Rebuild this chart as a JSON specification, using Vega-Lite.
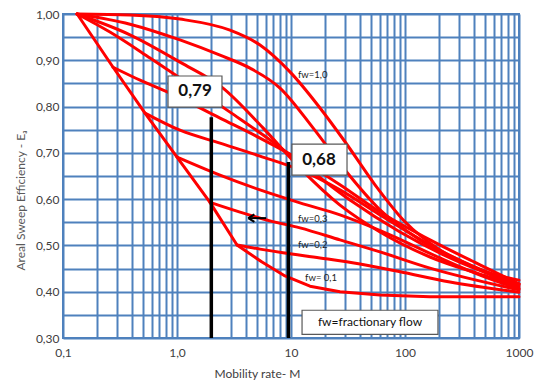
{
  "$schema": "https://vega.github.io/schema/vega-lite/v6.json",
  "width": 456,
  "height": 324,
  "autosize": {"type": "none"},
  "padding": {"left": 63, "top": 14, "right": 16, "bottom": 47},
  "background": "white",
  "config": {"view": {"stroke": "#4F81BD", "strokeWidth": 2}, "font": "Lato"},
  "datasets": {
    "curves": [
      {"fw": "1.0", "s": 1, "M": 0.133, "E": 1.0},
      {"fw": "1.0", "s": 1, "M": 0.387, "E": 0.998},
      {"fw": "1.0", "s": 1, "M": 1.062, "E": 0.989},
      {"fw": "1.0", "s": 1, "M": 2.917, "E": 0.965},
      {"fw": "1.0", "s": 1, "M": 5.348, "E": 0.933},
      {"fw": "1.0", "s": 1, "M": 9.799, "E": 0.875},
      {"fw": "1.0", "s": 1, "M": 17.97, "E": 0.797},
      {"fw": "1.0", "s": 1, "M": 29.77, "E": 0.724},
      {"fw": "1.0", "s": 1, "M": 54.56, "E": 0.631},
      {"fw": "1.0", "s": 1, "M": 100, "E": 0.551},
      {"fw": "1.0", "s": 1, "M": 202.8, "E": 0.49},
      {"fw": "1.0", "s": 1, "M": 454.9, "E": 0.447},
      {"fw": "1.0", "s": 1, "M": 1000, "E": 0.425},

      {"fw": "0.9", "s": 1, "M": 0.133, "E": 1.0},
      {"fw": "0.9", "s": 1, "M": 0.387, "E": 0.978},
      {"fw": "0.9", "s": 1, "M": 1.062, "E": 0.944},
      {"fw": "0.9", "s": 1, "M": 2.384, "E": 0.911},
      {"fw": "0.9", "s": 1, "M": 4.369, "E": 0.883},
      {"fw": "0.9", "s": 1, "M": 8.008, "E": 0.84},
      {"fw": "0.9", "s": 1, "M": 15.6, "E": 0.754},
      {"fw": "0.9", "s": 1, "M": 29.77, "E": 0.663},
      {"fw": "0.9", "s": 1, "M": 60.36, "E": 0.577},
      {"fw": "0.9", "s": 1, "M": 135.4, "E": 0.512},
      {"fw": "0.9", "s": 1, "M": 371.6, "E": 0.458},
      {"fw": "0.9", "s": 1, "M": 1000, "E": 0.417},

      {"fw": "0.8", "s": 1, "M": 0.133, "E": 1.0},
      {"fw": "0.8", "s": 1, "M": 0.387, "E": 0.955},
      {"fw": "0.8", "s": 1, "M": 1.062, "E": 0.896},
      {"fw": "0.8", "s": 1, "M": 2.532, "E": 0.84},
      {"fw": "0.8", "s": 1, "M": 5.681, "E": 0.754},
      {"fw": "0.8", "s": 1, "M": 11.99, "E": 0.667},
      {"fw": "0.8", "s": 1, "M": 26.9, "E": 0.587},
      {"fw": "0.8", "s": 1, "M": 60.36, "E": 0.529},
      {"fw": "0.8", "s": 1, "M": 165.7, "E": 0.475},
      {"fw": "0.8", "s": 1, "M": 454.9, "E": 0.438},
      {"fw": "0.8", "s": 1, "M": 1000, "E": 0.412},

      {"fw": "0.7", "s": 1, "M": 0.133, "E": 1.0},
      {"fw": "0.7", "s": 1, "M": 0.258, "E": 0.961},
      {"fw": "0.7", "s": 1, "M": 0.58, "E": 0.905},
      {"fw": "0.7", "s": 1, "M": 1.3, "E": 0.847},
      {"fw": "0.7", "s": 1, "M": 2.917, "E": 0.788},
      {"fw": "0.7", "s": 1, "M": 6.544, "E": 0.728},
      {"fw": "0.7", "s": 1, "M": 14.68, "E": 0.663},
      {"fw": "0.7", "s": 1, "M": 32.92, "E": 0.598},
      {"fw": "0.7", "s": 1, "M": 90.39, "E": 0.529},
      {"fw": "0.7", "s": 1, "M": 248.1, "E": 0.473},
      {"fw": "0.7", "s": 1, "M": 1000, "E": 0.415},

      {"fw": "0.6", "s": 1, "M": 0.275, "E": 0.885},
      {"fw": "0.6", "s": 1, "M": 0.474, "E": 0.857},
      {"fw": "0.6", "s": 1, "M": 0.868, "E": 0.829},
      {"fw": "0.6", "s": 1, "M": 2.384, "E": 0.775},
      {"fw": "0.6", "s": 1, "M": 5.348, "E": 0.732},
      {"fw": "0.6", "s": 1, "M": 11.99, "E": 0.685},
      {"fw": "0.6", "s": 1, "M": 26.9, "E": 0.631},
      {"fw": "0.6", "s": 1, "M": 60.36, "E": 0.572},
      {"fw": "0.6", "s": 1, "M": 165.7, "E": 0.512},
      {"fw": "0.6", "s": 1, "M": 454.9, "E": 0.458},
      {"fw": "0.6", "s": 1, "M": 1000, "E": 0.417},

      {"fw": "0.5", "s": 1, "M": 0.524, "E": 0.786},
      {"fw": "0.5", "s": 1, "M": 1.062, "E": 0.749},
      {"fw": "0.5", "s": 1, "M": 2.384, "E": 0.721},
      {"fw": "0.5", "s": 1, "M": 5.348, "E": 0.693},
      {"fw": "0.5", "s": 1, "M": 11.99, "E": 0.663},
      {"fw": "0.5", "s": 1, "M": 26.9, "E": 0.62},
      {"fw": "0.5", "s": 1, "M": 60.36, "E": 0.566},
      {"fw": "0.5", "s": 1, "M": 165.7, "E": 0.501},
      {"fw": "0.5", "s": 1, "M": 454.9, "E": 0.447},
      {"fw": "0.5", "s": 1, "M": 1000, "E": 0.408},

      {"fw": "0.4", "s": 1, "M": 1.0, "E": 0.691},
      {"fw": "0.4", "s": 1, "M": 2.384, "E": 0.652},
      {"fw": "0.4", "s": 1, "M": 5.348, "E": 0.62},
      {"fw": "0.4", "s": 1, "M": 11.99, "E": 0.592},
      {"fw": "0.4", "s": 1, "M": 26.9, "E": 0.566},
      {"fw": "0.4", "s": 1, "M": 73.86, "E": 0.523},
      {"fw": "0.4", "s": 1, "M": 202.8, "E": 0.473},
      {"fw": "0.4", "s": 1, "M": 454.9, "E": 0.436},
      {"fw": "0.4", "s": 1, "M": 1000, "E": 0.406},

      {"fw": "0.3", "s": 1, "M": 1.947, "E": 0.593},
      {"fw": "0.3", "s": 1, "M": 3.57, "E": 0.572},
      {"fw": "0.3", "s": 1, "M": 6.544, "E": 0.553},
      {"fw": "0.3", "s": 1, "M": 11.99, "E": 0.538},
      {"fw": "0.3", "s": 1, "M": 26.9, "E": 0.512},
      {"fw": "0.3", "s": 1, "M": 60.36, "E": 0.486},
      {"fw": "0.3", "s": 1, "M": 165.7, "E": 0.451},
      {"fw": "0.3", "s": 1, "M": 1000, "E": 0.404},

      {"fw": "0.2", "s": 1, "M": 3.36, "E": 0.501},
      {"fw": "0.2", "s": 1, "M": 5.348, "E": 0.492},
      {"fw": "0.2", "s": 1, "M": 8.507, "E": 0.484},
      {"fw": "0.2", "s": 1, "M": 17.97, "E": 0.473},
      {"fw": "0.2", "s": 1, "M": 40.31, "E": 0.46},
      {"fw": "0.2", "s": 1, "M": 90.39, "E": 0.443},
      {"fw": "0.2", "s": 1, "M": 248.1, "E": 0.421},
      {"fw": "0.2", "s": 1, "M": 1000, "E": 0.399},

      {"fw": "0.1", "s": 0, "M": 0.133, "E": 1.0},
      {"fw": "0.1", "s": 0, "M": 0.275, "E": 0.885},
      {"fw": "0.1", "s": 0, "M": 0.524, "E": 0.786},
      {"fw": "0.1", "s": 0, "M": 1.0, "E": 0.691},
      {"fw": "0.1", "s": 0, "M": 1.947, "E": 0.593},
      {"fw": "0.1", "s": 0, "M": 3.36, "E": 0.501},
      {"fw": "0.1", "s": 0, "M": 5.568, "E": 0.464},
      {"fw": "0.1", "s": 0, "M": 8.858, "E": 0.434},
      {"fw": "0.1", "s": 0, "M": 14.68, "E": 0.412},
      {"fw": "0.1", "s": 0, "M": 26.9, "E": 0.4},
      {"fw": "0.1", "s": 0, "M": 60.36, "E": 0.393},
      {"fw": "0.1", "s": 0, "M": 165.7, "E": 0.389},
      {"fw": "0.1", "s": 0, "M": 1000, "E": 0.389}
    ],
    "vlines": [
      {"M": 2, "E": 0.3, "E2": 0.777},
      {"M": 9.5, "E": 0.3, "E2": 0.68}
    ],
    "boxes": [
      {"M": 0.834, "M2": 2.48, "E": 0.799, "E2": 0.866},
      {"M": 10.2, "M2": 31.0, "E": 0.652, "E2": 0.719},
      {"M": 12.5, "M2": 194.6, "E": 0.308, "E2": 0.36}
    ],
    "bigtext": [
      {"M": 1.44, "E": 0.834, "t": "0,79"},
      {"M": 17.6, "E": 0.685, "t": "0,68"}
    ],
    "fwlabels": [
      {"M": 11.5, "E": 0.868, "t": "fw=1,0"},
      {"M": 11.5, "E": 0.557, "t": "fw=0,3"},
      {"M": 11.5, "E": 0.501, "t": "fw=0,2"},
      {"M": 13.3, "E": 0.43, "t": "fw= 0,1"}
    ],
    "boxlabel": [
      {"M": 49.3, "E": 0.335, "t": "fw=fractionary flow"}
    ],
    "arrow": [
      {"M": 4.37, "M2": 6.04, "E": 0.559}
    ],
    "arrowhead": [
      {"M": 4.64, "E": 0.559}
    ]
  },
  "encoding": {
    "x": {
      "field": "M",
      "type": "quantitative",
      "scale": {"type": "log", "domain": [0.1, 1000], "nice": false},
      "axis": {
        "title": "Mobility rate- M",
        "values": [0.1,0.2,0.3,0.4,0.5,0.6,0.7,0.8,0.9,1,2,3,4,5,6,7,8,9,10,20,30,40,50,60,70,80,90,100,200,300,400,500,600,700,800,900,1000],
        "grid": true,
        "gridColor": "#4F81BD",
        "gridWidth": 2,
        "gridOpacity": 1,
        "ticks": false,
        "tickSize": 0,
        "domain": false,
        "labelExpr": "datum.value == 0.1 ? '0,1' : datum.value == 1 ? '1,0' : (datum.value == 10 || datum.value == 100 || datum.value == 1000) ? '' + datum.value : ''",
        "labelOverlap": false,
        "labelFlush": false,
        "labelBound": false,
        "labelPadding": 9,
        "labelFont": "Lato",
        "labelFontSize": 12,
        "labelColor": "#404040",
        "titleFont": "Lato",
        "titleFontSize": 12,
        "titleFontWeight": "normal",
        "titleColor": "#404040",
        "titleX": 194,
        "titleY": 35,
        "titleAlign": "center",
        "titleBaseline": "middle"
      }
    },
    "y": {
      "field": "E",
      "type": "quantitative",
      "scale": {"domain": [0.3, 1.0], "nice": false, "zero": false},
      "axis": {
        "title": "Areal Sweep Efficiency - Eₐ",
        "values": [0.3,0.35,0.4,0.45,0.5,0.55,0.6,0.65,0.7,0.75,0.8,0.85,0.9,0.95,1.0],
        "grid": true,
        "gridColor": "#4F81BD",
        "gridWidth": 2,
        "gridOpacity": 1,
        "ticks": false,
        "tickSize": 0,
        "domain": false,
        "labelExpr": "round(datum.value * 100) % 10 == 0 ? replace(format(datum.value, '.2f'), '.', ',') : ''",
        "labelOverlap": false,
        "labelBound": false,
        "labelFlush": false,
        "labelPadding": 4,
        "labelFont": "Lato",
        "labelFontSize": 12,
        "labelColor": "#404040",
        "titleFont": "Lato",
        "titleFontSize": 12,
        "titleFontWeight": "normal",
        "titleColor": "#595959",
        "titleX": -43,
        "titleY": 186,
        "titleAngle": 270,
        "titleAlign": "center",
        "titleBaseline": "middle"
      }
    }
  },
  "layer": [
    {
      "data": {"name": "curves"},
      "transform": [{"filter": "datum.s == 1"}],
      "mark": {"type": "line", "color": "#FF0000", "strokeWidth": 3, "interpolate": "monotone", "strokeCap": "round", "strokeJoin": "round"},
      "encoding": {"detail": {"field": "fw", "type": "nominal"}}
    },
    {
      "data": {"name": "curves"},
      "transform": [{"filter": "datum.s == 0"}],
      "mark": {"type": "line", "color": "#FF0000", "strokeWidth": 3, "interpolate": "linear", "strokeCap": "round", "strokeJoin": "round"},
      "encoding": {"detail": {"field": "fw", "type": "nominal"}}
    },
    {
      "data": {"name": "vlines"},
      "mark": {"type": "rule", "color": "black", "strokeWidth": 3.5},
      "encoding": {"y2": {"field": "E2"}}
    },
    {
      "data": {"name": "arrow"},
      "mark": {"type": "rule", "color": "black", "strokeWidth": 2},
      "encoding": {"x2": {"field": "M2"}}
    },
    {
      "data": {"name": "arrowhead"},
      "mark": {"type": "point", "shape": "M-1,0L0.3,-0.8M-1,0L0.3,0.8", "size": 90, "filled": false, "stroke": "black", "strokeWidth": 2.2, "opacity": 1},
      "encoding": {}
    },
    {
      "data": {"name": "boxes"},
      "mark": {"type": "rect", "fill": "white", "stroke": "#595959", "strokeWidth": 1.2},
      "encoding": {"x2": {"field": "M2"}, "y2": {"field": "E2"}}
    },
    {
      "data": {"name": "bigtext"},
      "mark": {"type": "text", "font": "Lato", "fontSize": 17, "fontWeight": "bold", "color": "#111111", "align": "center", "baseline": "middle"},
      "encoding": {"text": {"field": "t"}}
    },
    {
      "data": {"name": "fwlabels"},
      "mark": {"type": "text", "font": "Lato", "fontSize": 9.5, "color": "#222222", "align": "left", "baseline": "middle"},
      "encoding": {"text": {"field": "t"}}
    },
    {
      "data": {"name": "boxlabel"},
      "mark": {"type": "text", "font": "Lato", "fontSize": 12, "color": "#111111", "align": "center", "baseline": "middle"},
      "encoding": {"text": {"field": "t"}}
    }
  ]
}
